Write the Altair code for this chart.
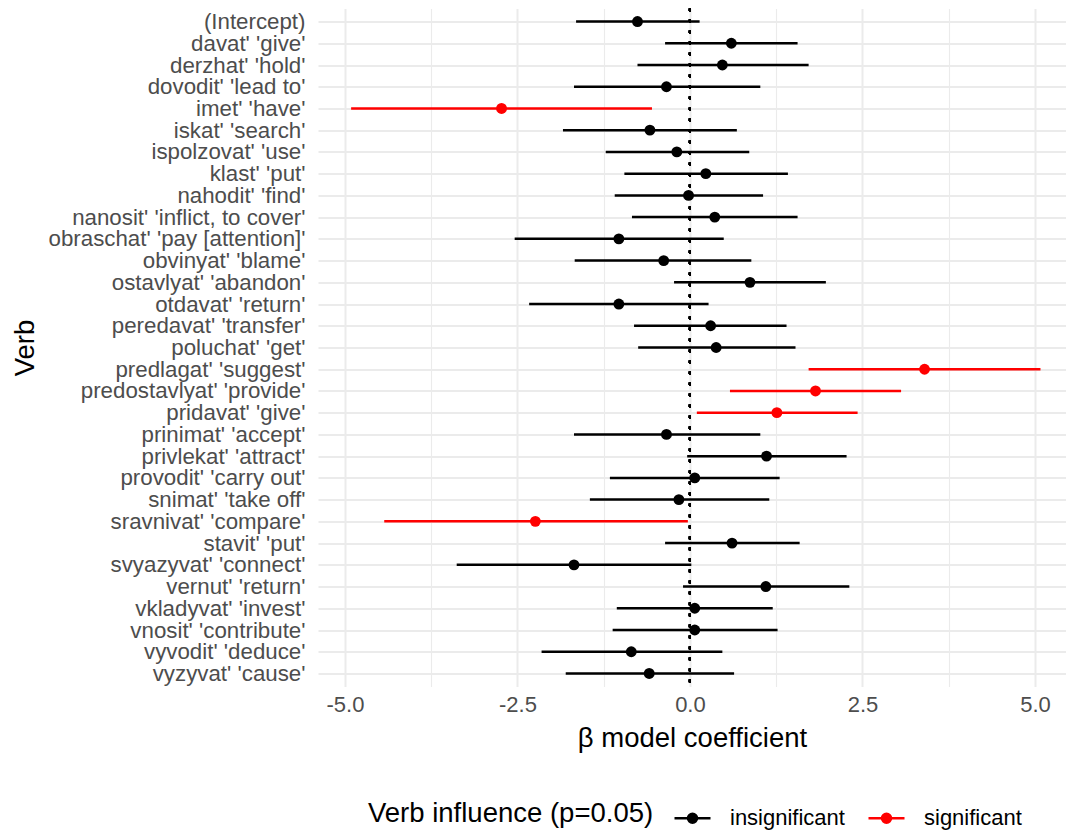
import altair as alt
import pandas as pd

verbs = [
    "(Intercept)", "davat' 'give'", "derzhat' 'hold'", "dovodit' 'lead to'",
    "imet' 'have'", "iskat' 'search'", "ispolzovat' 'use'", "klast' 'put'",
    "nahodit' 'find'", "nanosit' 'inflict, to cover'", "obraschat' 'pay [attention]'",
    "obvinyat' 'blame'", "ostavlyat' 'abandon'", "otdavat' 'return'",
    "peredavat' 'transfer'", "poluchat' 'get'", "predlagat' 'suggest'",
    "predostavlyat' 'provide'", "pridavat' 'give'", "prinimat' 'accept'",
    "privlekat' 'attract'", "provodit' 'carry out'", "snimat' 'take off'",
    "sravnivat' 'compare'", "stavit' 'put'", "svyazyvat' 'connect'",
    "vernut' 'return'", "vkladyvat' 'invest'", "vnosit' 'contribute'",
    "vyvodit' 'deduce'", "vyzyvat' 'cause'",
]
estimate = [-0.76, 0.60, 0.47, -0.34, -2.73, -0.58, -0.19, 0.23, -0.02, 0.36,
            -1.03, -0.38, 0.87, -1.03, 0.30, 0.38, 3.40, 1.82, 1.26, -0.34,
            1.11, 0.07, -0.16, -2.24, 0.61, -1.68, 1.10, 0.07, 0.07, -0.85, -0.59]
lower = [-1.65, -0.36, -0.76, -1.68, -4.91, -1.84, -1.22, -0.95, -1.09, -0.84,
         -2.54, -1.67, -0.23, -2.33, -0.81, -0.75, 1.72, 0.58, 0.10, -1.68,
         -0.04, -1.16, -1.45, -4.43, -0.36, -3.38, -0.10, -1.06, -1.12, -2.15, -1.80]
upper = [0.14, 1.56, 1.72, 1.02, -0.55, 0.68, 0.86, 1.42, 1.06, 1.56,
         0.49, 0.89, 1.97, 0.27, 1.40, 1.53, 5.08, 3.06, 2.43, 1.02,
         2.27, 1.30, 1.15, -0.03, 1.59, 0.02, 2.31, 1.20, 1.27, 0.47, 0.64]
significance = ["insignificant"] * len(verbs)
for i in (4, 16, 17, 18, 23):
    significance[i] = "significant"

sig_levels = ["insignificant", "significant"]
sig_colors = ["#000000", "#FF0000"]
x_ticks = [-5.0, -3.75, -2.5, -1.25, 0.0, 1.25, 2.5, 3.75, 5.0]

df = pd.DataFrame({"verb": verbs, "est": estimate, "lo": lower, "hi": upper, "sig": significance})

FONT = "Liberation Sans"
xscale = alt.Scale(domain=[-5.39, 5.45], nice=False, zero=False)
yenc = alt.Y(
    "verb:N", sort=verbs, scale=alt.Scale(type="point", padding=0.6),
    axis=alt.Axis(
        title="Verb", titleFontSize=27.5, titleFontWeight="normal", titleColor="#000000",
        titleFont=FONT, titleX=-285, titleAngle=270, titleBaseline="alphabetic",
        labelFontSize=22.3, labelColor="#4D4D4D", labelFont=FONT, labelPadding=13,
        labelLimit=400, ticks=False, tickSize=0, domain=False,
        grid=True, gridColor="#EBEBEB", gridWidth=2,
    ),
)
xaxis = alt.Axis(
    values=x_ticks, title="β model coefficient", titleFontSize=27.5,
    titleFontWeight="normal", titleColor="#000000", titleFont=FONT, titlePadding=9,
    labelFontSize=22, labelColor="#4D4D4D", labelFont=FONT, labelPadding=7.5,
    labelExpr="abs(datum.value % 2.5) > 0.01 ? '' : ((datum.value < 0 ? '-' : '') + format(abs(datum.value), '.1f'))",
    ticks=False, tickSize=0, domain=False, grid=True, gridColor="#EBEBEB",
    gridWidth={"condition": {"test": "abs(datum.value % 2.5) > 0.01", "value": 1.1}, "value": 2},
)

base = alt.Chart(df)

zero_line = base.mark_rule(color="black", strokeWidth=2, strokeDash=[2.7, 8.3]).encode(
    x=alt.datum(0, scale=xscale, axis=xaxis)
)

bars = base.mark_rule(strokeWidth=2.5).encode(
    y=yenc,
    x=alt.X("lo:Q", scale=xscale, axis=xaxis),
    x2="hi:Q",
    color=alt.Color(
        "sig:N",
        scale=alt.Scale(domain=sig_levels, range=sig_colors),
        legend=alt.Legend(
            title="Verb influence (p=0.05)", orient="none", legendX=50, legendY=790,
            direction="horizontal", titleOrient="left", titleFontSize=27.5,
            titleFontWeight="normal", titleColor="#000000", titleFont=FONT,
            titlePadding=19, titleBaseline="middle", titleAnchor="middle",
            titleLimit=600,
            labelFontSize=22, labelColor="#000000", labelFont=FONT, labelOffset=18,
            columnPadding=18, labelLimit=300,
            symbolType="M-1,0L1,0M-0.25,0A0.25,0.25,0,1,0,0.25,0A0.25,0.25,0,1,0,-0.25,0M-0.17,0A0.17,0.17,0,1,0,0.17,0A0.17,0.17,0,1,0,-0.17,0M-0.1,0A0.1,0.1,0,1,0,0.1,0A0.1,0.1,0,1,0,-0.1,0M-0.03,0A0.03,0.03,0,1,0,0.03,0A0.03,0.03,0,1,0,-0.03,0",
            symbolSize=1296, symbolStrokeWidth=2.5, symbolFillColor="transparent",
            symbolOpacity=1,
        ),
    ),
)

points = base.mark_point(filled=True, size=118, opacity=1).encode(
    y=yenc,
    x=alt.X("est:Q", scale=xscale, axis=xaxis),
    fill=alt.Fill("sig:N", scale=alt.Scale(domain=sig_levels, range=sig_colors), legend=None),
)

chart = alt.layer(zero_line, bars, points).properties(
    width=748, height=678,
    autosize=alt.AutoSizeParams(type="none"),
    padding={"left": 318, "top": 8.5, "right": 0, "bottom": 145.5},
    background="white",
).configure_view(stroke=None)

chart.save("out.html", embed_options={"renderer": "svg", "actions": False})
